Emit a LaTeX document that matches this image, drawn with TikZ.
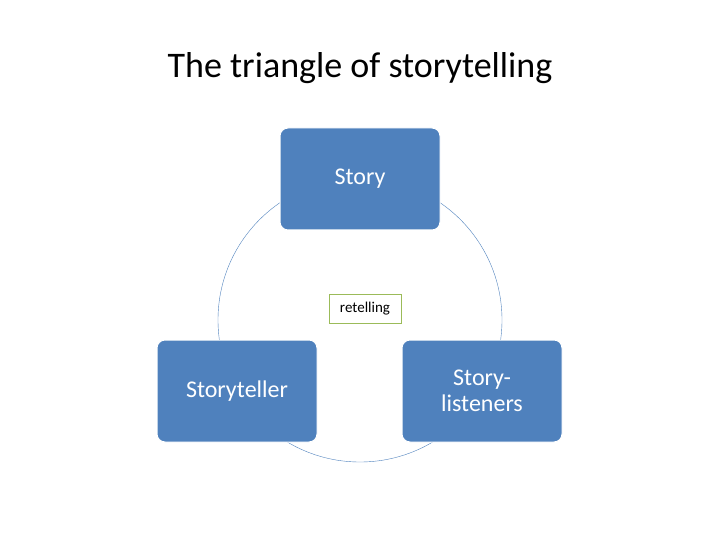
\documentclass[tikz,border=0pt]{standalone}
\usepackage{fontspec}
\setmainfont{Carlito}
\usetikzlibrary{positioning}
\definecolor{boxblue}{HTML}{4F81BD}
\definecolor{olivebd}{HTML}{9BBB59}
\tikzset{
  stage/.style={rectangle,rounded corners=8pt,fill=boxblue,draw=white,line width=1pt,
    minimum width=160pt,minimum height=102pt,text=white,font=\fontsize{24}{26}\selectfont,align=center},
  tag/.style={rectangle,fill=white,draw=olivebd,line width=1pt,minimum width=72pt,
    minimum height=29pt,font=\fontsize{15}{17}\selectfont}
}
\begin{document}
\begin{tikzpicture}[x=1pt,y=-1pt]
  \useasboundingbox (0,0) rectangle (720,540);
  \node[font=\fontsize{36}{40}\selectfont](title) at (360,68){The triangle of storytelling};
  \coordinate (c) at (360,320);
  \draw[boxblue,thin] (c) circle[radius=142pt];
  \node[stage](story) at (360,179){Story};
  \node[stage](teller) at (237,391){Storyteller};
  \node[stage](listen) at (482,391){Story-\\listeners};
  \node[tag](ret) at (365,309){retelling};
\end{tikzpicture}
\end{document}
